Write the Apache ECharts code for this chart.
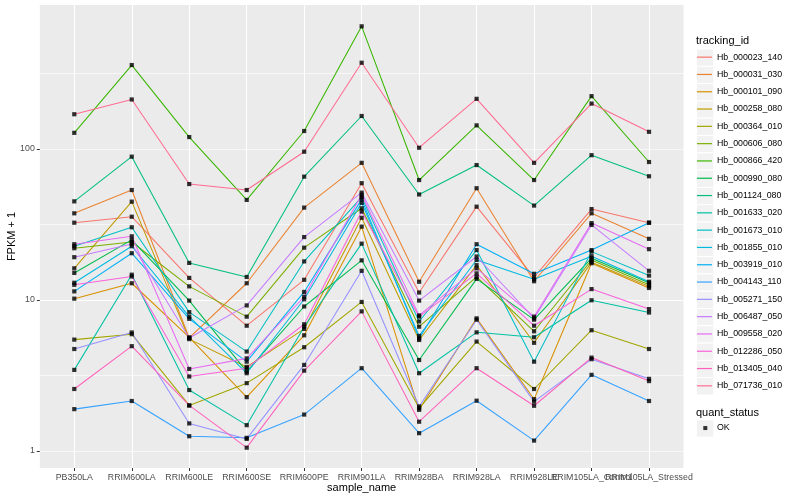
<!DOCTYPE html>
<html><head><meta charset="utf-8">
<script src="https://cdn.jsdelivr.net/npm/echarts@6/dist/echarts.min.js"></script>
<style>html,body{margin:0;padding:0;background:#fff}#c{width:800px;height:500px}</style>
</head><body><div id="c"></div>
<script>
const categories = ['PB350LA','RRIM600LA','RRIM600LE','RRIM600SE','RRIM600PE','RRIM901LA','RRIM928BA','RRIM928LA','RRIM928LE','RRIM105LA_Control','RRIM105LA_Stressed'];
const trackingIds = ['Hb_000023_140','Hb_000031_030','Hb_000101_090','Hb_000258_080','Hb_000364_010','Hb_000606_080','Hb_000866_420','Hb_000990_080','Hb_001124_080','Hb_001633_020','Hb_001673_010','Hb_001855_010','Hb_003919_010','Hb_004143_110','Hb_005271_150','Hb_006487_050','Hb_009558_020','Hb_012286_050','Hb_013405_040','Hb_071736_010'];
const yTickValues = [1, 10, 100];

const hb_000023_140 = [32.5, 35.6, 14.0, 6.75, 13.6, 59.4, 11.2, 41.5, 14.1, 40, 32.5];
const hb_000031_030 = [37.5, 53.5, 5.6, 12.9, 40.9, 81, 13.2, 55, 13.3, 37.5, 25.4];
const hb_000101_090 = [10.2, 12.9, 5.65, 2.27, 5.83, 30.6, 1.87, 7.55, 2.2, 17.5, 12.0];
const hb_000258_080 = [16.2, 44.8, 5.5, 3.6, 6.43, 35, 5.43, 17.0, 5.2, 17.8, 12.3];
const hb_000364_010 = [5.46, 5.93, 2.0, 2.81, 4.86, 9.7, 1.92, 5.3, 2.57, 6.3, 4.73];
const hb_000606_080 = [22.0, 24.2, 12.3, 7.75, 22.2, 40.5, 6.65, 14.2, 6.2, 18.4, 12.6];
const hb_000866_420 = [128, 360, 120, 46, 131.6, 650, 62.3, 143.5, 62.3, 224, 82];
const hb_000990_080 = [15.1, 25, 9.9, 3.35, 9.05, 18.3, 4.0, 13.8, 7.4, 18.9, 13.0];
const hb_001124_080 = [45, 89, 17.6, 14.2, 65.6, 165.5, 50, 78.3, 42.2, 91, 66];
const hb_001633_020 = [3.44, 14.7, 2.53, 1.48, 6.65, 23.6, 3.27, 6.1, 5.66, 9.95, 8.25];
const hb_001673_010 = [22.7, 30.3, 8.3, 4.55, 18.0, 48, 7.2, 21.4, 3.9, 20.9, 14.5];
const hb_001855_010 = [13.0, 22.7, 7.75, 3.27, 10.1, 44, 5.78, 18.4, 13.7, 19.5, 13.2];
const hb_003919_010 = [11.4, 20.4, 7.5, 3.9, 11.3, 46.4, 5.56, 23.4, 14.9, 21.4, 32.5];
const hb_004143_110 = [1.89, 2.14, 1.25, 1.22, 1.74, 3.53, 1.31, 2.15, 1.17, 3.19, 2.14];
const hb_005271_150 = [4.73, 6.09, 1.52, 1.2, 3.71, 15.6, 1.97, 7.4, 2.12, 4.05, 3.0];
const hb_006487_050 = [19.2, 23.5, 5.6, 9.2, 26.1, 51.4, 9.9, 19.4, 7.55, 31.4, 15.6];
const hb_009558_020 = [23.4, 26.4, 3.49, 4.1, 10.5, 49.7, 7.9, 16.2, 7.75, 32.3, 21.7];
const hb_012286_050 = [12.6, 14.3, 3.11, 3.53, 6.9, 38.5, 7.75, 15.0, 6.75, 11.8, 8.7];
const hb_013405_040 = [2.57, 4.94, 2.0, 1.05, 3.4, 8.4, 1.56, 3.53, 1.99, 4.15, 2.9];
const hb_071736_010 = [170, 213, 58.6, 53.5, 96, 373, 102, 215, 81, 200, 130];

const seriesValues = [hb_000023_140, hb_000031_030, hb_000101_090, hb_000258_080, hb_000364_010, hb_000606_080, hb_000866_420, hb_000990_080, hb_001124_080, hb_001633_020, hb_001673_010, hb_001855_010, hb_003919_010, hb_004143_110, hb_005271_150, hb_006487_050, hb_009558_020, hb_012286_050, hb_013405_040, hb_071736_010];

const palette = ['#F8766D','#EA8331','#D89000','#C09B00','#A3A500','#7CAE00','#39B600','#00BB4E','#00BF7D','#00C1A3','#00BFC4','#00BAE0','#00B0F6','#35A2FF','#9590FF','#C77CFF','#E76BF3','#FA62DB','#FF62BC','#FF6C91'];

const FONT = '"Liberation Sans", Arial, Helvetica, sans-serif';
const xIdx = categories.map((_, i) => i);
const xIdxEven = xIdx.filter(i => i % 2 === 0);
const xIdxOdd = xIdx.filter(i => i % 2 === 1);

const lineSeries = trackingIds.map((id, k) => ({
  name: id, type: 'line', xAxisIndex: 0, yAxisIndex: 0,
  data: seriesValues[k].map((v, i) => [i, v]),
  showSymbol: false, symbol: 'none',
  lineStyle: { color: palette[k], width: 1.05 },
  itemStyle: { color: palette[k] },
  z: 2, silent: true, emphasis: { disabled: true }
}));
const pointData = [];
seriesValues.forEach(arr => arr.forEach((v, i) => pointData.push([i, v])));
const pointSeries = {
  name: 'OK', type: 'scatter', xAxisIndex: 0, yAxisIndex: 0,
  data: pointData, symbol: 'rect', symbolSize: 4.2,
  itemStyle: { color: '#000' }, z: 3, silent: true, emphasis: { disabled: true }
};

const KEY = 17.3, KEYX = 696, LEG1TOP = 48.5, LEG2TOP = 419.4;
const keyRects = [];
for (let k = 0; k < trackingIds.length; k++) {
  keyRects.push({ type: 'rect', left: KEYX, top: LEG1TOP + k * KEY, shape: { width: KEY, height: KEY }, style: { fill: '#F2F2F2', stroke: '#fff', lineWidth: 1 }, z: -1, silent: true });
}
keyRects.push({ type: 'rect', left: KEYX, top: LEG2TOP, shape: { width: KEY, height: KEY }, style: { fill: '#F2F2F2', stroke: '#fff', lineWidth: 1 }, z: -1, silent: true });

const labelFmt = v => { const i = Math.round(v); return Math.abs(v - i) < 1e-6 && categories[i] ? categories[i] : ''; };
const xLabelStyle = { showMinLabel: true, showMaxLabel: true, formatter: labelFmt, fontSize: 8.8, color: '#4D4D4D', margin: 5, fontFamily: FONT, hideOverlap: false };

const chart = echarts.init(document.getElementById('c'), null, { renderer: 'canvas' });
chart.setOption({
  animation: false,
  backgroundColor: '#fff',
  textStyle: { fontFamily: FONT },
  title: [
    { text: 'tracking_id', left: 696, top: 35, textStyle: { fontSize: 11, fontWeight: 'normal', color: '#000', fontFamily: FONT }, padding: 0 },
    { text: 'quant_status', left: 696, top: 407, textStyle: { fontSize: 11, fontWeight: 'normal', color: '#000', fontFamily: FONT }, padding: 0 }
  ],
  grid: { left: 39.8, right: 116.5, top: 5, bottom: 32, show: true, backgroundColor: '#EBEBEB', borderWidth: 0, containLabel: false, outerBoundsMode: 'none' },
  xAxis: [{
    type: 'value', min: -0.6, max: 10.6, minInterval: 1, maxInterval: 1, position: 'bottom', offset: 0,
    name: 'sample_name', nameLocation: 'middle', nameGap: 14.5, nameMoveOverlap: false,
    nameTextStyle: { fontSize: 11, color: '#000', fontFamily: FONT },
    axisLine: { show: false, onZero: false },
    axisTick: { show: false },
    axisLabel: Object.assign({ customValues: xIdxEven }, xLabelStyle),
    splitLine: { show: true, lineStyle: { color: '#fff', width: 1.1 }, showMinLine: false, showMaxLine: false }
  }, {
    type: 'value', min: -0.6, max: 10.6, position: 'bottom', offset: 0, z: 5,
    axisLine: { show: false, onZero: false },
    axisTick: { show: true, inside: false, interval: 0, length: 3, lineStyle: { color: '#333333', width: 1, opacity: 1 }, customValues: xIdx },
    axisLabel: Object.assign({ customValues: xIdxOdd }, xLabelStyle),
    splitLine: { show: false }
  }],
  yAxis: [{
    type: 'log', logBase: 10, min: 0.77, max: 900,
    name: 'FPKM + 1', nameLocation: 'middle', nameGap: 22, nameRotate: 90, nameMoveOverlap: false,
    nameTextStyle: { fontSize: 11, color: '#000', fontFamily: FONT },
    axisLine: { show: false, onZero: false },
    axisTick: { show: true, length: 3, lineStyle: { color: '#333', width: 1 }, customValues: yTickValues },
    axisLabel: { customValues: yTickValues, showMinLabel: true, showMaxLabel: true, formatter: v => String(Math.round(v)), fontSize: 8.8, color: '#4D4D4D', margin: 5, fontFamily: FONT },
    splitLine: { show: true, lineStyle: { color: '#fff', width: 1.1 }, showMinLine: false, showMaxLine: false }
  }, {
    type: 'log', logBase: Math.sqrt(10), min: 0.77, max: 900, position: 'left',
    axisLine: { show: false, onZero: false }, axisTick: { show: false }, axisLabel: { show: false },
    splitLine: { show: true, lineStyle: { color: '#fff', width: 0.6 }, showMinLine: false, showMaxLine: false }
  }],
  legend: [{
    orient: 'vertical', left: 697, top: LEG1TOP, padding: 0, itemGap: 0,
    itemWidth: 15, itemHeight: 1.2, selectedMode: false,
    data: trackingIds.map((id, k) => ({ name: id, icon: 'rect', itemStyle: { color: palette[k] } })),
    textStyle: { fontSize: 8.8, color: '#000', lineHeight: KEY, fontFamily: FONT }
  }, {
    orient: 'vertical', left: 703.3, top: LEG2TOP, padding: 0, itemGap: 0,
    itemWidth: 4, itemHeight: 4, selectedMode: false,
    data: [{ name: 'OK', icon: 'rect', itemStyle: { color: '#000' } }],
    textStyle: { fontSize: 8.8, color: '#000', lineHeight: KEY, padding: [0, 0, 0, 4.7], fontFamily: FONT }
  }],
  graphic: keyRects,
  series: [...lineSeries, pointSeries]
});
</script></body></html>
